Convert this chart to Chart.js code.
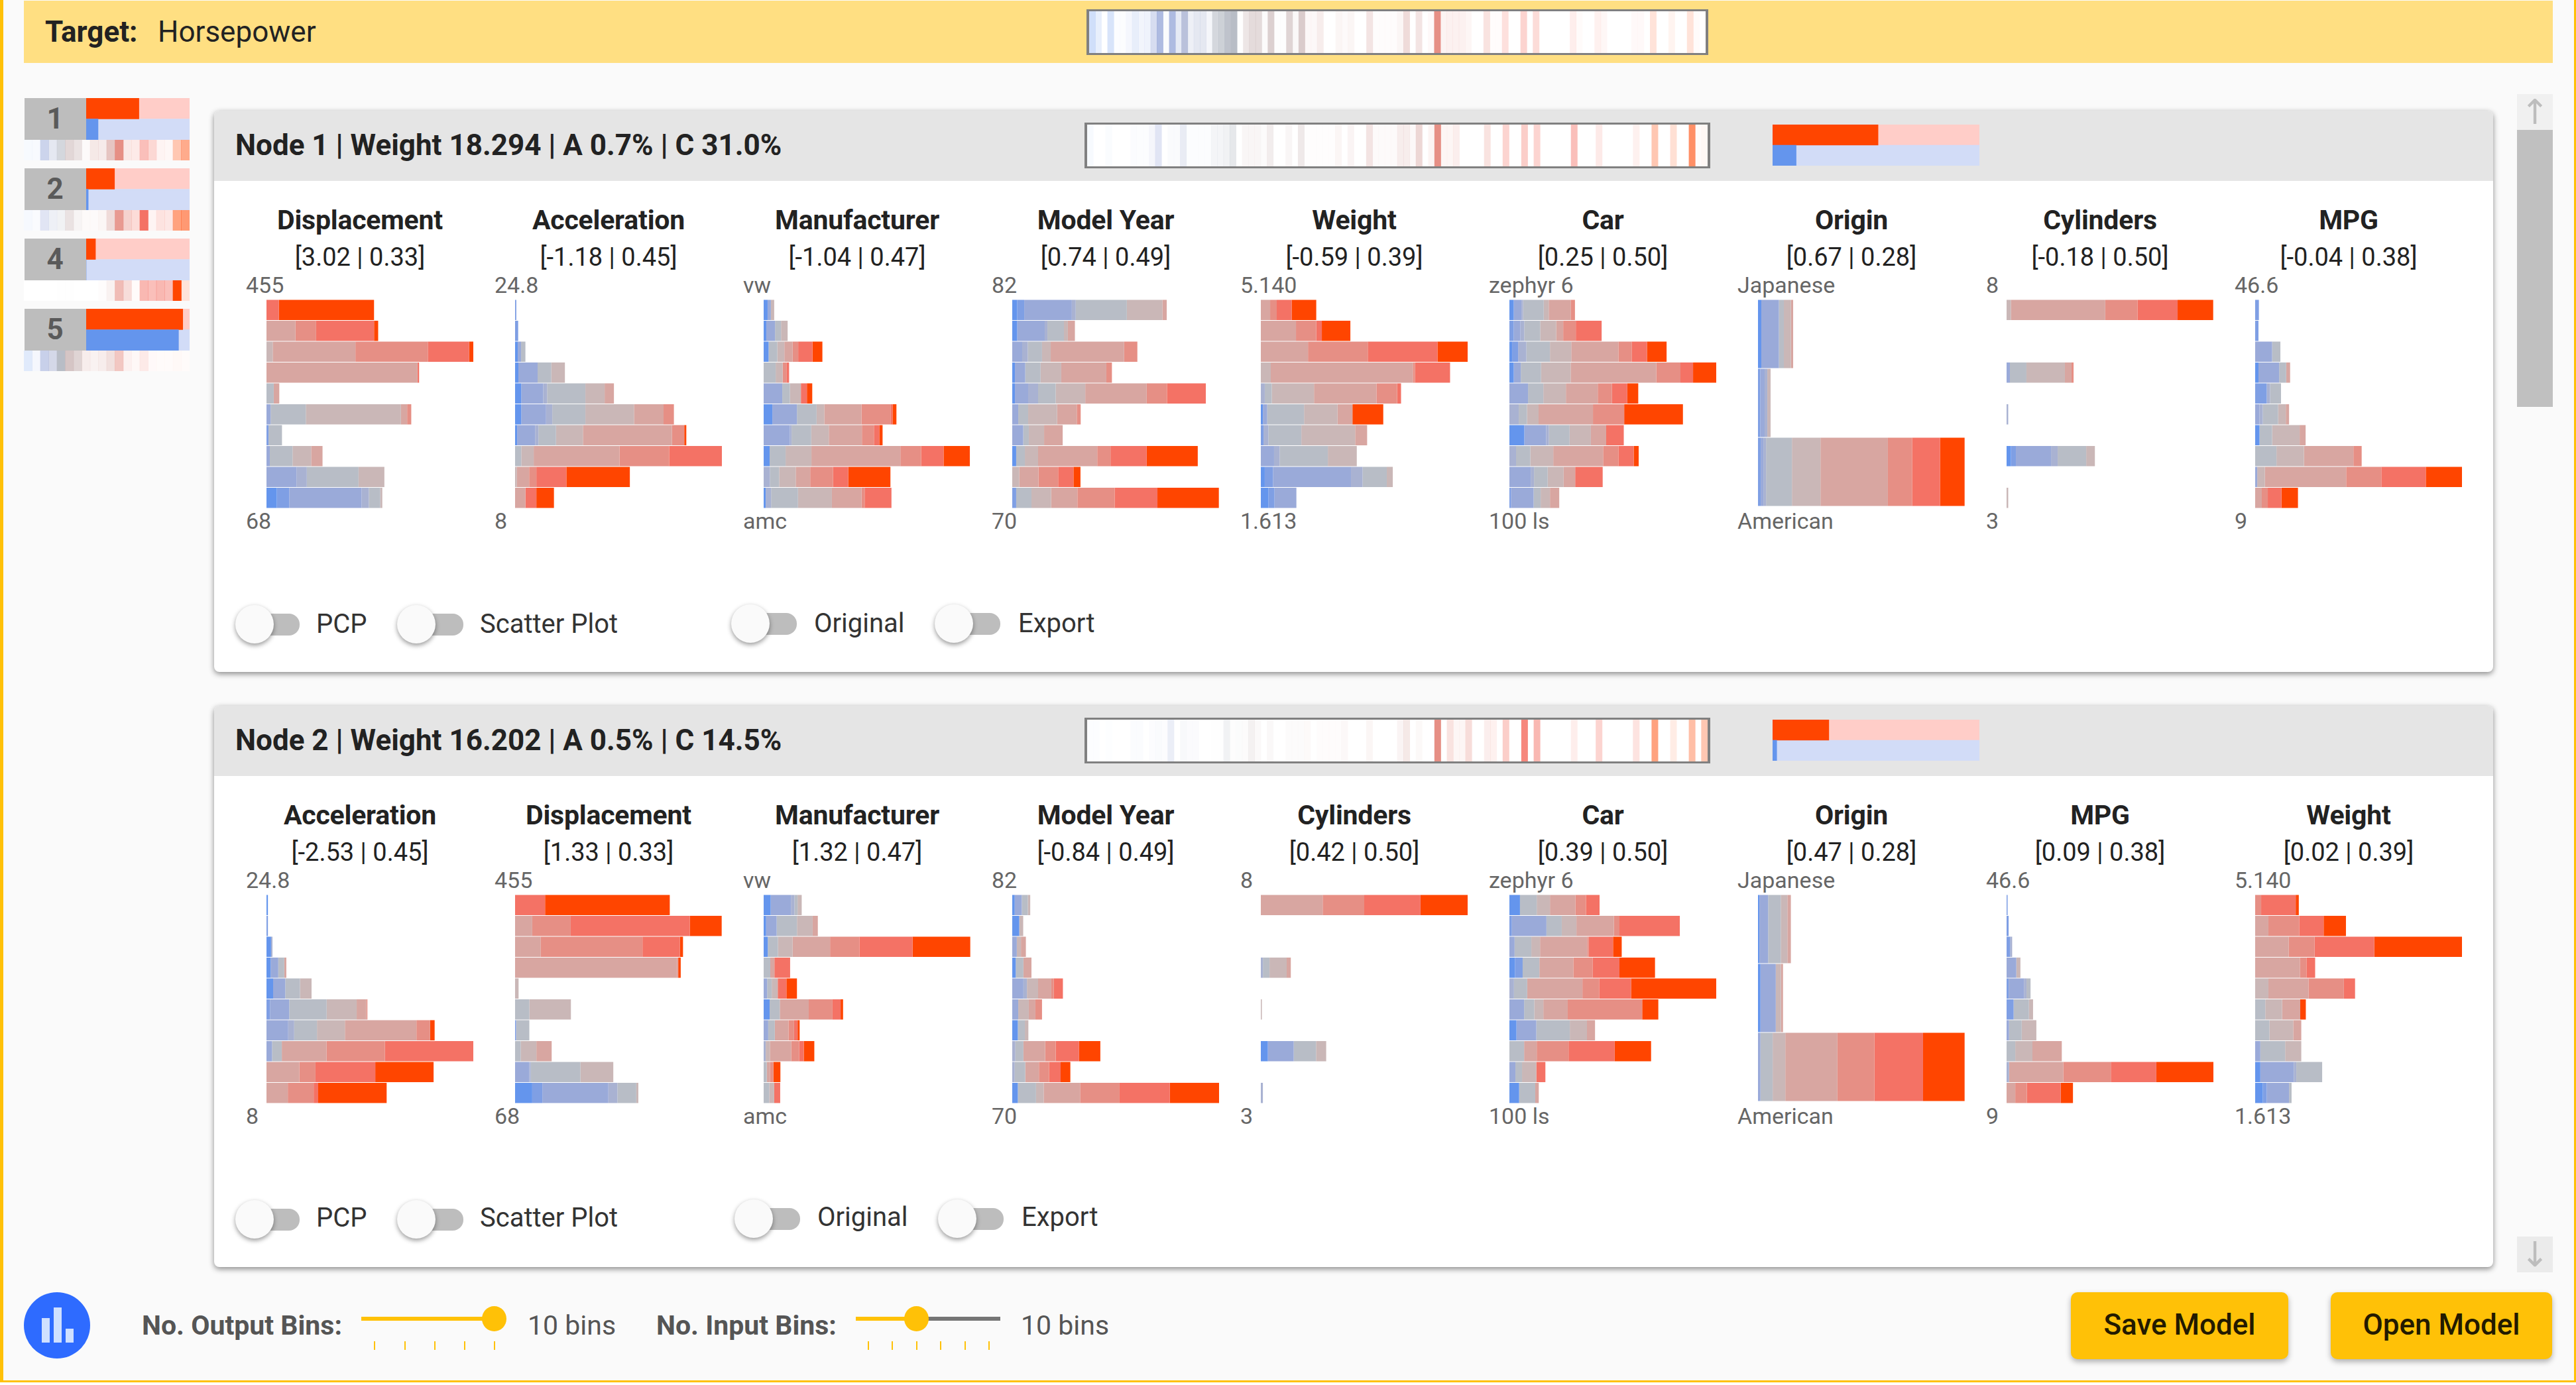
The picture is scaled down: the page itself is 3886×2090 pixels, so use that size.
<!DOCTYPE html>
<html>
<head>
<meta charset="utf-8">
<title>Horsepower</title>
<script src="https://cdn.jsdelivr.net/npm/chart.js@4"></script>
<style>
  html, body { margin: 0; padding: 0; background: #fff; }
  body { width: 3886px; height: 2090px; position: relative; overflow: hidden; font-family: Roboto, sans-serif; }
  #page { position: absolute; left: 0; top: 0; width: 3886px; height: 2086px; background: #fafafa; box-sizing: border-box;
          border-left: 5px solid #ffc107; border-right: 3px solid #ffc107; border-bottom: 3px solid #ffc107; margin: 0; }
  .box { position: absolute; box-sizing: border-box; }
  .txt { position: absolute; white-space: nowrap; line-height: 1; }
  canvas { position: absolute; display: block; }
  .title { font-size: 41px; font-weight: 700; color: #222; letter-spacing: -0.2px; }
  .stat { font-size: 38px; color: #222; }
  .tick { font-size: 34px; color: #666; }
  .head { font-size: 44px; font-weight: 700; color: #222; }
  .opt { font-size: 40px; color: #333; }
  .ctl { font-size: 41px; color: #555; }
  .ctlb { font-size: 41px; font-weight: 700; color: #555; }
  .arrow { font-size: 52px; color: #bdbdbd; font-family: "DejaVu Sans", sans-serif; }
  .btn { background: #ffc107; border-radius: 10px; box-shadow: 0 4px 8px rgba(0,0,0,.3); }
  .btnt { font-size: 44px; font-weight: 500; color: #231a00; }
  .card { background: #fff; border-radius: 8px; box-shadow: 0 3px 8px rgba(0,0,0,.45); overflow: hidden; }
  .knob { background: #fafafa; border-radius: 50%; box-shadow: 0 3px 7px rgba(0,0,0,.4); }
  .track { background: #bdbdbd; border-radius: 0 16px 16px 0; }
</style>
</head>
<body>
<div id="page"></div>
<script>
// output bins, blue to red
const binColors = ['#6495ed', '#7f9fe4', '#9aaad9', '#a9b2d2', '#b8bdc6', '#cab7b7', '#d8a6a1', '#e68f85', '#f47265', '#ff4500'];
// where each bin ends along a heat strip (fraction of its width)
const binEnds = [.05, .1, .15, .2, .25, .35, .55, .65, .9, 1];

const targetName = 'Horsepower';
const targetStrip = [.3,.15,0,.25,.02,.02,.08,.18,.1,.12, .4,.8,.05,.8,.25,.8,.2,.3,.3,.12, .6,.7,.9,1,.02,.35,.5,.5,.05,.65, .03,.03,.6,.1,.7,.08,.08,.2,0,0, .1,.05,.1,0,0,.3,.03,.03,.03,.03, .1,.4,0,.3,0,.05,1,.1,.12,.12, .12,.08,0,0,.25,.02,.02,.22,0,0, .3,0,.25,0,0,0,0,0,.12,.03, 0,0,.1,.06,0,0,0,0,.04,.04, 0,.15,0,0,.06,0,0,.15,.02,0];
const node1Strip = [.05,0,0,.03,0,0,0,.03,.02,.02, .1,.3,0,.05,.05,.25,.03,.03,.03,.03, .15,.15,.2,.35,0,.12,.12,.12,.05,.25, 0,0,.12,0,.3,.02,.02,.02,.02,.02, .1,0,.12,0,0,.3,.05,.05,.05,.05, .2,.2,.08,.45,0,.1,1,.08,.08,.15, 0,0,0,0,.25,0,0,.3,0,0, .35,0,.3,0,0,0,0,0,.45,0, 0,0,.15,0,0,0,0,0,.1,0, 0,.3,0,0,.17,0,0,.6,.02,.04];
const node2Strip = [.02,.02,0,.01,0,0,0,.03,.03,0, .03,.05,.03,.2,0,.08,.05,.05,0,0, .02,.02,.2,.03,.05,.05,.2,.08,0,.1, 0,0,.05,.05,.06,.06,0,.03,.03,.03, .03,.08,0,0,0,.1,0,0,0,0, .12,.25,0,.07,0,0,1,0,.25,.08, .08,.3,0,0,.15,.1,0,.35,0,0, .85,0,.5,0,0,0,0,0,.12,0, 0,0,.3,0,0,0,0,0,.2,0, 0,.5,0,0,.1,0,0,.35,0,.3];

// side list of nodes
const sideNodes = ['1', '2', '4', '5'];
const sideRed = [51, 27.4, 9, 93.4];
const sideBlue = [11.5, 2, 0, 89.3];
const sideStrip1 = [.05,.05,.5,.3,.6,.55,.4,.05,.25,.22,.65,1,.2,.15,.45,.28,.08,.06,.3,.45];
const sideStrip2 = [.06,.04,.3,.2,.2,.4,.15,.06,.05,.1,.4,.9,.4,.25,1,.08,.2,.17,.5,.55];
const sideStrip4 = [0,0,0,0,.01,.01,0,0,0,.03,.15,.6,.3,.03,.5,.45,.5,.45,1,.15];
const sideStrip5 = [.2,.08,.55,.5,1,.8,.6,.2,.15,.2,.35,.5,.12,.05,.15,.04,.03,.03,.03,.02];

const node1Red = 51;
const node1Blue = 11.4;
const node2Red = 27.2;
const node2Blue = 2;

// Node 1 attributes
const node1Titles = ['Displacement', 'Acceleration', 'Manufacturer', 'Model Year', 'Weight', 'Car', 'Origin', 'Cylinders', 'MPG'];
const node1Stats = ['[3.02 | 0.33]', '[-1.18 | 0.45]', '[-1.04 | 0.47]', '[0.74 | 0.49]', '[-0.59 | 0.39]', '[0.25 | 0.50]', '[0.67 | 0.28]', '[-0.18 | 0.50]', '[-0.04 | 0.38]'];
const node1Top = ['455', '24.8', 'vw', '82', '5.140', 'zephyr 6', 'Japanese', '8', '46.6'];
const node1Bottom = ['68', '8', 'amc', '70', '1.613', '100 ls', 'American', '3', '9'];

const n1Displacement = [
  [0,0,0,0,0,0,0,0,6,46],
  [0,0,0,0,0,0,14,10,28,2],
  [0,0,0,0,0,3,40,35,20,2],
  [0,0,0,0,0,0,73,0,.8,0],
  [0,0,0,0,3.5,0,2.7,0,0,0],
  [0,0,2,0,17,46,3,2,0,0],
  [0,1,0,0,6.5,0,0,0,0,0],
  [0,0,1.6,0,11,9,5.5,0,0,0],
  [0,0,14.5,5,25,12.5,0,0,0,0],
  [5,6,35,3.5,5.5,1,0,0,0,0]];
const n1Acceleration = [
  [0,.6,0,0,0,0,0,0,0,0],
  [0,1.5,0,0,0,0,0,0,0,0],
  [1.3,0,1.6,0,2.1,0,0,0,0,0],
  [1.6,0,9.3,0,6.6,6.6,0,0,0,0],
  [3,0,10.6,1.9,18.5,9.3,4.5,0,0,0],
  [3,0,12,3,16,23.5,14.3,5,0,0],
  [1,0,8.7,1.6,8.5,13,43,6,0,1],
  [0,0,0,0,3,6,41.5,24,25.7,0],
  [0,0,0,0,0,.8,6,3.5,14.5,30.7],
  [0,0,0,0,0,0,5,0,5.3,8.5]];
const n1Manufacturer = [
  [1.9,0,1.6,0,0,1.6,0,0,0,0],
  [1.3,0,4.2,0,2.9,3.2,0,0,0,0],
  [2.4,0,0,0,4.2,3.4,4,2.7,6.9,4.8],
  [0,0,0,0,5.8,3.4,0,1.8,1.3,0],
  [0,0,9,0,3.7,5.3,0,0,2.9,2.6],
  [4.2,0,11.9,0,9.5,3.7,18,14,1,1.9],
  [0,0,12.7,.8,9.5,8.5,16,5.8,2.6,1.6],
  [2.9,0,0,0,7.7,12.5,43,10,10.9,12.7],
  [0,0,0,3,4.5,8,7,11,7.4,20.4],
  [1,0,0,2.6,13,16.4,14.3,1.5,13,0]];
const n1ModelYear = [
  [2.4,3.4,23,1.9,24.7,17.2,2.1,0,0,0],
  [2.4,0,13.3,1.3,8,1.9,3.4,0,0,0],
  [0,0,4.8,2.7,6.9,4.2,35.5,6.4,0,0],
  [1.3,0,5,0,7.4,10,21.8,2.7,0,0],
  [1.3,0,6.4,4.8,8.5,14.3,29.7,9.8,18.8,0],
  [0,0,2.9,0,4.8,14,9.5,1.9,0,0],
  [0,0,5.3,0,2.7,7.4,9,0,0,0],
  [1.9,0,0,0,4.2,6.4,28.6,6.4,17.5,24.7],
  [0,0,0,0,0,3.4,9.3,9.5,7.4,3.4],
  [0,1.9,0,0,7.4,9.5,12.7,18,20.7,29.7]];
const n1Weight = [
  [0,0,0,0,0,0,4.5,3.2,7.2,11.9],
  [0,0,0,0,0,0,17,9.8,2.7,13.8],
  [0,0,0,0,0,0,22.8,28.9,33.7,14.9],
  [0,0,0,0,0,4.8,68.7,1,17,0],
  [0,0,0,1.9,3.4,20.4,30.2,10,1.9,0],
  [1,0,2.1,0,17.8,16.2,7.2,0,0,14.9],
  [0,1.3,0,2.4,15.9,26,5.8,0,0,0],
  [0,0,6.4,2.7,23.3,14,0,0,0,0],
  [1.9,4,37.7,5.6,11.7,2.9,0,0,0,0],
  [3.7,2.9,10.6,0,0,0,0,0,0,0]];
const n1Car = [
  [2.1,0,3.7,.8,10,2.4,10.6,2.1,0,0],
  [0,2.1,3.2,1.9,7.7,7.7,3.4,6.1,12.5,0],
  [1.3,2.9,0,4,11.4,10.3,22.8,6.4,7.4,9.5],
  [2.1,0,3.4,0,9.8,14.3,41.4,11.7,6.1,11.4],
  [0,0,9,0,7.4,10.9,15.4,6.9,7.4,5.3],
  [0,0,0,4.5,4,5.6,26.3,15.1,0,28.4],
  [7.2,0,10.6,1.3,10,10.3,7.4,0,8.5,0],
  [0,0,0,3.2,6.9,11.1,24.1,7.4,7.4,2.4],
  [0,0,10.3,1.6,6.6,7.7,5.6,0,13.3,0],
  [0,.8,10.9,0,3.4,4.5,4.5,0,0,0]];
const n1Origin = [
  [1.6,0,8.5,0,2.4,3.4,1.1,0,0,0],
  [0,1.1,2.1,1.3,0,1.6,0,0,0,0],
  [0,1.3,1.3,1.3,12.5,13.8,32.6,11.7,13.5,11.9]];
const n1Cylinders = [
  [0,0,0,0,0,2.1,45.6,15.6,19.4,17.2],
  [0,0,0,0,0,0,0,0,0,0],
  [0,0,0,0,0,0,0,0,0,0],
  [0,0,1.6,0,8,18.6,3.2,1,0,0],
  [0,0,0,0,0,0,0,0,0,0],
  [0,0,0,.8,0,0,0,0,0,0],
  [0,0,0,0,0,0,0,0,0,0],
  [2.1,2.4,17,3.2,13.8,4.2,0,0,0,0],
  [0,0,0,0,0,0,0,0,0,0],
  [0,0,0,0,0,.8,0,0,0,0]];
const n1Mpg = [
  [0,1.8,0,0,0,0,0,0,0,0],
  [0,1.6,0,0,0,0,0,0,0,0],
  [0,0,8.2,0,4,0,0,0,0,0],
  [1.6,0,10,0,3.4,0,1.9,0,0,0],
  [0,5.6,0,1.6,5.3,0,0,0,0,0],
  [0,0,2.1,1.6,7.4,3.7,1.6,0,0,0],
  [2.1,0,0,0,6.1,13.3,2.9,0,0,0],
  [0,0,0,0,10.3,13.3,23.9,4,0,0],
  [0,0,1,0,0,3.7,39.3,17,21.5,17.8],
  [0,0,0,0,0,0,3.2,2.9,6.6,8]];

// Node 2 attributes
const node2Titles = ['Acceleration', 'Displacement', 'Manufacturer', 'Model Year', 'Cylinders', 'Car', 'Origin', 'MPG', 'Weight'];
const node2Stats = ['[-2.53 | 0.45]', '[1.33 | 0.33]', '[1.32 | 0.47]', '[-0.84 | 0.49]', '[0.42 | 0.50]', '[0.39 | 0.50]', '[0.47 | 0.28]', '[0.09 | 0.38]', '[0.02 | 0.39]'];
const node2Top = ['24.8', '455', 'vw', '82', '8', 'zephyr 6', 'Japanese', '46.6', '5.140'];
const node2Bottom = ['8', '68', 'amc', '70', '3', '100 ls', 'American', '9', '1.613'];

const n2Acceleration = [
  [.7,0,0,0,0,0,0,0,0,0],
  [0,.7,0,0,0,0,0,0,0,0],
  [2.2,0,0,.7,0,0,0,0,0,0],
  [2,0,3.7,0,2.9,0,1,0,0,0],
  [3.2,0,5.9,0,7.1,5.6,0,0,0,0],
  [0,1.7,9.3,0,18.1,14.5,4.7,.5,0,0],
  [0,0,10.5,2.9,11,13.5,34.6,6.6,0,2.2],
  [0,0,2.7,0,4.7,0,21.6,28.2,42.9,0],
  [0,0,0,0,0,0,15.9,7.8,28.9,28.2],
  [0,0,0,0,0,0,10.3,12.5,2.2,33.1]];
const n2Displacement = [
  [0,0,0,0,0,0,0,0,14.5,60.3],
  [0,0,0,0,0,0,8.3,18.6,57.6,15.4],
  [0,0,0,0,0,0,12.3,49.3,18.1,1.5],
  [0,0,0,0,0,0,78.4,.5,0,1.2],
  [0,0,0,0,0,1.7,0,0,0,0],
  [0,0,0,0,6.9,20.1,0,0,0,0],
  [0,.5,0,0,6.4,0,0,0,0,0],
  [0,0,0,0,2.7,7.6,7.4,0,0,0],
  [0,0,6.9,.7,24,15.9,0,0,0,0],
  [8.3,4.9,31.9,4.4,9.1,1,0,0,0,0]];
const n2Manufacturer = [
  [3.4,0,9.8,1.7,1.5,2,0,0,0,0],
  [1.2,0,5.1,0,9.8,7.6,2.5,0,0,0],
  [2,0,0,0,4.9,7.1,18.1,14.2,25.7,27.9],
  [0,0,0,0,3.2,0,2,0,7.6,0],
  [0,0,1.7,0,2.2,2.9,0,0,4.2,5.1],
  [2.9,0,0,0,4.9,0,14,11.5,3.9,1.2],
  [0,0,2.2,0,3.2,0,6.6,2.7,1.7,1],
  [0,0,0,1,0,2,10.3,3.9,2.2,5.1],
  [0,0,0,0,1.5,0,1.5,1.7,0,3.4],
  [0,0,0,0,2.7,2.4,0,0,2.9,0]];
const n2ModelYear = [
  [1.2,0,3.4,0,2.9,1.2,0,0,0,0],
  [3.4,0,0,0,0,1.9,0,0,0,0],
  [0,0,2.2,0,0,2,2.4,0,0,0],
  [1.7,0,0,0,3.7,0,3.9,0,0,0],
  [0,0,5.4,1.7,0,5.4,6.4,1.2,4.4,0],
  [0,0,2.9,0,0,5.1,3.2,3.2,0,0],
  [2.7,0,0,0,3.4,1.7,0,0,0,0],
  [0,0,0,1.5,3.9,0,10.5,5.1,11.3,10.3],
  [0,0,0,1.2,5.1,0,6.6,4.9,5.6,4.7],
  [2.7,0,0,0,8.8,3.7,17.6,19.1,24.3,23.8]];
const n2Cylinders = [
  [0,0,0,0,0,0,29.9,20.1,27.2,22.8],
  [0,0,0,0,0,0,0,0,0,0],
  [0,0,0,0,0,0,0,0,0,0],
  [0,0,0,1,3.2,8.3,2,0,0,0],
  [0,0,0,0,0,0,0,0,0,0],
  [0,0,0,0,0,.5,0,0,0,0],
  [0,0,0,0,0,0,0,0,0,0],
  [3.4,0,12.5,0,10.8,4.9,0,0,0,0],
  [0,0,0,0,0,0,0,0,0,0],
  [0,0,0,1,0,0,0,0,0,0]];
const n2Car = [
  [5.1,0,0,0,8.1,6.4,12.3,5.1,6.6,0],
  [0,1.2,16.7,0,7.4,7.1,18.1,2.7,29.2,0],
  [0,0,2.5,0,8.1,4.2,22.8,.7,11.8,4.2],
  [2.7,3.7,0,0,8.1,0,16.4,9.3,13,17.2],
  [0,0,0,2.2,6.4,0,26.7,8.1,15.4,41.2],
  [0,0,7.1,0,4.9,4.4,11.8,36,0,7.8],
  [3.4,0,9.6,0,16.2,8.3,3.9,0,0,0],
  [0,0,0,0,7.1,0,6.1,15.4,22.3,17.6],
  [0,0,2.9,0,3.2,6.9,0,0,4.4,0],
  [4.7,0,0,0,7.8,0,1.7,0,0,0]];
const n2Origin = [
  [.7,0,4.2,0,6.1,3.2,1.7,0,0,0],
  [1.2,0,7.4,0,0,2.5,1,0,0,0],
  [0,0,1.2,0,5.9,6.1,25.2,17.9,23.5,20.1]];
const n2Mpg = [
  [0,.5,0,0,0,0,0,0,0,0],
  [0,1,0,0,0,0,0,0,0,0],
  [0,1.7,0,1,0,0,0,0,0,0],
  [0,0,4.7,0,0,2,0,0,0,0],
  [0,1,7.4,1.2,2,0,0,0,0,0],
  [0,3.4,0,0,7.4,2,0,0,0,0],
  [0,0,1.2,0,6.1,7.1,0,0,0,0],
  [0,0,0,0,4.2,8.3,14.2,0,0,0],
  [0,0,0,1.2,0,0,26.2,23,22,27.6],
  [0,0,0,0,0,0,4.2,5.6,16.4,5.9]];
const n2Weight = [
  [0,0,0,0,0,0,0,2.9,16.7,1.5],
  [0,0,0,0,0,0,6.4,14.9,11.8,10.8],
  [0,0,0,0,0,0,16.2,12.5,28.9,42.6],
  [0,0,0,0,0,0,21.6,3.2,4.2,0],
  [0,0,0,0,0,6.4,19.4,17.1,5.4,0],
  [0,0,0,0,4.9,8.1,8.8,0,0,2.7],
  [0,0,0,0,6.9,11.5,3.9,0,0,0],
  [0,0,2.5,0,12,7.8,0,0,0,0],
  [2.5,0,16.2,1.2,12.5,0,0,0,0,0],
  [3.7,1.9,10.8,0,1.2,0,0,0,0,0]];

const node1Rows = [n1Displacement, n1Acceleration, n1Manufacturer, n1ModelYear, n1Weight, n1Car, n1Origin, n1Cylinders, n1Mpg];
const node2Rows = [n2Acceleration, n2Displacement, n2Manufacturer, n2ModelYear, n2Cylinders, n2Car, n2Origin, n2Mpg, n2Weight];

Chart.defaults.animation = false;
Chart.defaults.responsive = false;
Chart.defaults.devicePixelRatio = 1;

const body = document.body;

function addBox(x, y, w, h, css, cls, parent) {
  const d = document.createElement('div');
  d.className = 'box ' + (cls || '');
  d.style.cssText = `left:${x}px;top:${y}px;width:${w}px;height:${h}px;${css || ''}`;
  (parent || body).appendChild(d);
  return d;
}

// y is the vertical centre of the text
function addText(str, x, y, cls, center) {
  const d = document.createElement('div');
  d.className = 'txt ' + cls;
  d.textContent = str;
  d.style.left = x + 'px';
  d.style.top = y + 'px';
  d.style.transform = center ? 'translate(-50%,-50%)' : 'translateY(-50%)';
  body.appendChild(d);
  return d;
}

function addCanvas(x, y, w, h, bg) {
  const c = document.createElement('canvas');
  c.width = w;
  c.height = h;
  c.style.cssText = `left:${x}px;top:${y}px;width:${w}px;height:${h}px;` + (bg ? `background:${bg};` : '');
  body.appendChild(c);
  return c;
}

const hiddenScale = { display: false, grid: { display: false }, border: { display: false } };
const plainPlugins = { legend: { display: false }, tooltip: { enabled: false }, title: { display: false } };

// one stacked horizontal histogram, a dataset per output bin
function drawHistogram(rows, x, y, h) {
  const canvas = addCanvas(x, y, 312, h);
  new Chart(canvas, {
    type: 'bar',
    data: {
      labels: rows.map((r, i) => i),
      datasets: binColors.map((color, k) => ({
        data: rows.map(r => r[k]),
        backgroundColor: color,
        borderWidth: 0,
        barPercentage: rows.length === 3 ? 0.99 : 0.97,
        categoryPercentage: 1
      }))
    },
    options: {
      indexAxis: 'y',
      layout: { padding: 0 },
      plugins: plainPlugins,
      scales: {
        x: { ...hiddenScale, stacked: true, min: 0, max: 100 },
        y: { ...hiddenScale, stacked: true }
      }
    }
  });
}

// heat strip: one column per cell, opacity from the value, hue from the bin
function stripColor(i, n, alpha) {
  const pos = (i + 0.5) / n;
  const hex = binColors[binEnds.findIndex(e => pos < e)];
  const r = parseInt(hex.slice(1, 3), 16), g = parseInt(hex.slice(3, 5), 16), b = parseInt(hex.slice(5, 7), 16);
  return `rgba(${r},${g},${b},${alpha})`;
}

function drawStrip(values, x, y, w, h) {
  const canvas = addCanvas(x, y, w, h, '#fff');
  new Chart(canvas, {
    type: 'bar',
    data: {
      labels: values.map((v, i) => i),
      datasets: [{
        data: values.map(() => 1),
        backgroundColor: values.map((v, i) => stripColor(i, values.length, v)),
        borderWidth: 0,
        barPercentage: 1,
        categoryPercentage: 1
      }]
    },
    options: {
      layout: { padding: 0 },
      plugins: plainPlugins,
      scales: { x: hiddenScale, y: { ...hiddenScale, min: 0, max: 1 } }
    }
  });
}

// the red / blue share bars
function drawShare(red, blue, x, y, w, h) {
  const canvas = addCanvas(x, y, w, h);
  new Chart(canvas, {
    type: 'bar',
    data: {
      labels: ['above', 'below'],
      datasets: [
        { data: [red, blue], backgroundColor: ['#ff4500', '#6495ed'], borderWidth: 0, barPercentage: 1, categoryPercentage: 1 },
        { data: [100 - red, 100 - blue], backgroundColor: ['#ffcdc8', '#d2dcf7'], borderWidth: 0, barPercentage: 1, categoryPercentage: 1 }
      ]
    },
    options: {
      indexAxis: 'y',
      layout: { padding: 0 },
      plugins: plainPlugins,
      scales: {
        x: { ...hiddenScale, stacked: true, min: 0, max: 100 },
        y: { ...hiddenScale, stacked: true }
      }
    }
  });
}

function drawToggle(knobX, endX, y) {
  addBox(knobX - 10, y - 16, endX - knobX + 10, 33, '', 'track');
  addBox(knobX - 29, y - 29, 58, 58, '', 'knob');
}

function drawFramedStrip(values, x, y, w, h) {
  addBox(x, y, w, h, 'background:#808080;');
  drawStrip(values, x + 4, y + 3, w - 8, h - 6);
}

// target bar
addBox(36, 1, 3815, 94, 'background:#ffdf82;');
addText('Target:', 68, 48, 'head');
addText(targetName, 238, 48, 'head').style.fontWeight = 400;
drawFramedStrip(targetStrip, 1639, 14, 938, 69);

// side list
sideNodes.forEach((name, i) => {
  const y = 148 + i * 106;
  addBox(37, y, 93, 63, 'background:#bdbdbd;');
  addText(name, 83, y + 31, 'head', true).style.color = '#5a5a5a';
  drawShare(sideRed[i], sideBlue[i], 130, y, 156, 63);
});
[sideStrip1, sideStrip2, sideStrip4, sideStrip5].forEach((values, i) => {
  drawStrip(values, 36, 211 + i * 106, 250, 31);
});

// scrollbar
addBox(3797, 142, 54, 54, 'background:#f0f0f0;');
addBox(3797, 196, 54, 418, 'background:#c0c0c0;');
addBox(3797, 1866, 54, 54, 'background:#ebebeb;');
addText('↑', 3824, 169, 'arrow', true);
addText('↓', 3824, 1893, 'arrow', true);

// node cards
const columnX = [402, 777, 1152, 1527, 1902, 2277, 2652, 3027, 3402];

function drawNode(top, label, strip, red, blue, titles, stats, tops, bottoms, rows, extra, optDy) {
  const card = addBox(323, top, 3438, 847, '', 'card');
  addBox(0, 0, 3438, 106, 'background:#e5e5e5;', '', card);
  addText(label, 355, top + 52, 'head');
  drawFramedStrip(strip, 1636, top + 18, 944, 69);
  drawShare(red, blue, 2674, top + 21, 312, 62);
  columnX.forEach((x, i) => {
    addText(titles[i], x + 141, top + 165, 'title', true);
    addText(stats[i], x + 141, top + 221, 'stat', true);
    addText(tops[i], x - 31, top + 263, 'tick');
    addText(bottoms[i], x - 31, top + 619, 'tick');
    drawHistogram(rows[i], x, top + 285, rows[i].length === 3 ? 312 : 315);
  });
  const toggleY = top + 775;
  drawToggle(384, 452, toggleY);
  addText('PCP', 477, toggleY + optDy, 'opt');
  drawToggle(628, 699, toggleY);
  addText('Scatter Plot', 724, toggleY + optDy, 'opt');
  drawToggle(1137 - extra, 1207 - extra, toggleY - 1);
  addText('Original', 1233 - extra, toggleY - 1 + optDy, 'opt');
  drawToggle(1444 - extra, 1514 - extra, toggleY - 1);
  addText('Export', 1541 - extra, toggleY - 1 + optDy, 'opt');
}

drawNode(167, 'Node 1 | Weight 18.294 | A 0.7% | C 31.0%', node1Strip, node1Red, node1Blue, node1Titles, node1Stats, node1Top, node1Bottom, node1Rows, 5, 0);
drawNode(1065, 'Node 2 | Weight 16.202 | A 0.5% | C 14.5%', node2Strip, node2Red, node2Blue, node2Titles, node2Stats, node2Top, node2Bottom, node2Rows, 0, -2);

// bottom controls
addBox(36, 1950, 100, 100, 'background:#2e6bff;border-radius:50%;');
addBox(63, 1989, 12, 37, 'background:#cfe0ff;');
addBox(81, 1973, 12, 53, 'background:#cfe0ff;');
addBox(99, 2005, 12, 21, 'background:#cfe0ff;');

addText('No. Output Bins:', 214, 2000, 'ctlb');
addBox(545, 1987, 190, 6, 'background:#ffc107;');
addBox(727, 1971, 37, 38, 'background:#ffc107;border-radius:50%;');
[564, 610, 655, 700, 745].forEach(x => addBox(x, 2024, 2, 13, 'background:#ffc107;'));
addText('10 bins', 796, 2000, 'ctl');

addText('No. Input Bins:', 990, 2000, 'ctlb');
addBox(1291, 1987, 80, 6, 'background:#ffc107;');
addBox(1390, 1987, 119, 6, 'background:#757575;');
addBox(1364, 1971, 37, 38, 'background:#ffc107;border-radius:50%;');
[1309, 1345, 1382, 1418, 1455, 1491].forEach(x => addBox(x, 2024, 2, 13, 'background:#ffc107;'));
addText('10 bins', 1540, 2000, 'ctl');

addBox(3124, 1950, 328, 101, '', 'btn');
addText('Save Model', 3288, 1999, 'btnt', true);
addBox(3516, 1950, 334, 101, '', 'btn');
addText('Open Model', 3683, 1999, 'btnt', true);
</script>
</body>
</html>
